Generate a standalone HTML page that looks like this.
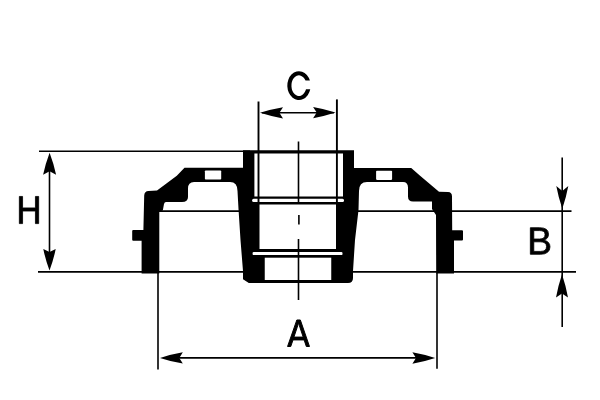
<!DOCTYPE html>
<html><head><meta charset="utf-8">
<style>
html,body{margin:0;padding:0;background:#fff;width:600px;height:400px;overflow:hidden}
svg{display:block}
text{font-family:"Liberation Sans",sans-serif}
</style></head>
<body>
<svg width="600" height="400" viewBox="0 0 600 400">
<rect width="600" height="400" fill="#fff"/>
<!-- reference lines (under body) -->
<g stroke="#000" stroke-width="1.7" fill="none">
<path d="M39,151.2 H250" stroke-width="1.5"/>
<path d="M38,271.85 H576" stroke-width="1.8"/>
<path d="M159,211.05 H571.5"/>
</g>
<!-- body -->
<path fill="#000" d="
M243,150.3 L354,150.3 L354,167.9 L411.25,167.9 L419.5,175.3 L439,191.8 L448,192 Q452,192 452,196.5
L452.2,230.2 L462,230.2 Q463,230.2 463,231.2 L463,239.5 Q463,240.5 462,240.5 L454,240.5 L454,273.5 L436.2,273.5 L436,215 L432,209 L432,201.5
L413,201.5 Q408,201.5 408,196.5 L408,187.5 Q408,181.9 403,181.9
L367,181.9 Q359,181.9 359,191 L358.5,210 L355,240 L353,271 L353,278 Q353,283 348,283
L248.8,283.1 L243,279.2 L243,271 L240.5,240 L238.5,209 L237.5,191 Q237.5,181.9 230,181.9
L194,181.9 Q188,181.9 188,188.5 L188,197 Q188,202 182,202 L166,202 Q164.5,202 164,204 L162.8,210.5 L159.3,211.5
L159.3,273.5 L141.6,273.5 L141.6,240.7 L133.2,240.7 Q132.2,240.7 132.2,239.7 L132.2,231 Q132.2,230.1 133.2,230.1 L143.4,230.1 L144.2,195.5 Q144.5,191.2 148.5,191
L157,190.4 L176.8,175.8 L184.5,167.7 L243,167.7 Z"/>
<!-- holes -->
<g fill="#fff">
<rect x="204.9" y="170.5" width="16.3" height="9" rx="0.8"/>
<rect x="376.1" y="170.75" width="16" height="9.15" rx="0.8"/>
<rect x="254.4" y="153.5" width="88.6" height="43"/>
<rect x="252.1" y="198.8" width="91.9" height="3.25" rx="1.5"/>
<rect x="259.5" y="204.5" width="76.5" height="44.5"/>
<rect x="252.6" y="251.9" width="89.9" height="3.2" rx="1.2"/>
<rect x="264.75" y="257.7" width="66.5" height="22.3"/>
</g>
<!-- lines over body -->
<g stroke="#000" stroke-width="1.6" fill="none">
<path d="M49.5,160 V262"/>
<path d="M298.5,141.4 V204 M298.9,215 V224.5 M298.5,239 V300"/>
<path d="M258.5,101.5 V204" stroke-width="1.9"/>
<path d="M336.9,99.4 V204" stroke-width="1.9"/>
<path d="M262,112.8 H334"/>
<path d="M158,273 V369.5"/>
<path d="M437,273 V368.7"/>
<path d="M165,357.9 H430"/>
<path d="M562.2,157.4 V327"/>
</g>
<!-- arrows -->
<g fill="#000">
<path d="M49.60,152.70 Q53.75,163.70 56.10,174.70 L49.60,171.20 L43.10,174.70 Q45.45,163.70 49.60,152.70 Z"/>
<path d="M49.50,270.60 Q45.50,259.80 43.30,249.00 L49.50,252.00 L55.70,249.00 Q53.50,259.80 49.50,270.60 Z"/>
<path d="M260.00,112.80 Q271.50,109.10 283.00,107.20 L279.40,112.80 L283.00,118.40 Q271.50,116.50 260.00,112.80 Z"/>
<path d="M335.60,112.60 Q324.35,116.30 313.10,118.20 L316.70,112.60 L313.10,107.00 Q324.35,108.90 335.60,112.60 Z"/>
<path d="M160.00,357.90 Q171.40,354.15 182.80,352.20 L179.30,357.90 L182.80,363.60 Q171.40,361.65 160.00,357.90 Z"/>
<path d="M435.20,358.00 Q423.80,361.80 412.40,363.80 L416.00,358.00 L412.40,352.20 Q423.80,354.20 435.20,358.00 Z"/>
<path d="M562.30,208.70 Q558.40,197.30 556.30,185.90 L562.30,190.90 L568.30,185.90 Q566.20,197.30 562.30,208.70 Z"/>
<path d="M562.00,274.20 Q565.90,285.85 568.00,297.50 L562.00,293.50 L556.00,297.50 Q558.10,285.85 562.00,274.20 Z"/>
</g>
<!-- letters -->
<g fill="#000">
<path transform="matrix(0.016163 0 0 -0.018808 287.485 346.500)" d="M1167 0 1030 350H340L202 0H4L579 1409H796L1362 0ZM685 1265 676 1237Q651 1154 602 1024L398 500H973L768 1026Q740 1095 712 1182Z" stroke="#000" stroke-width="1.0" stroke-linejoin="round" vector-effect="non-scaling-stroke"/>
<path transform="matrix(0.018028 0 0 -0.018879 527.321 254.300)" d="M1258 397Q1258 209 1121.0 104.5Q984 0 740 0H168V1409H680Q1176 1409 1176 1067Q1176 942 1106.0 857.0Q1036 772 908 743Q1076 723 1167.0 630.5Q1258 538 1258 397ZM984 1044Q984 1158 906.0 1207.0Q828 1256 680 1256H359V810H680Q833 810 908.5 867.5Q984 925 984 1044ZM1065 412Q1065 661 715 661H359V153H730Q905 153 985.0 218.0Q1065 283 1065 412Z" stroke="#000" stroke-width="0.8" stroke-linejoin="round" vector-effect="non-scaling-stroke"/>
<path transform="matrix(0.016871 0 0 -0.019269 16.516 223.600)" d="M1121 0V653H359V0H168V1409H359V813H1121V1409H1312V0Z" stroke="#000" stroke-width="0.8" stroke-linejoin="round" vector-effect="non-scaling-stroke"/>
<path d="M309.9,80.6 A11.66,14.4 0 1 0 310.25,89.2 L306,89.2 A7.5,10.4 0 1 1 305.5,80.6 Z"/>
</g>
</svg>
</body></html>
